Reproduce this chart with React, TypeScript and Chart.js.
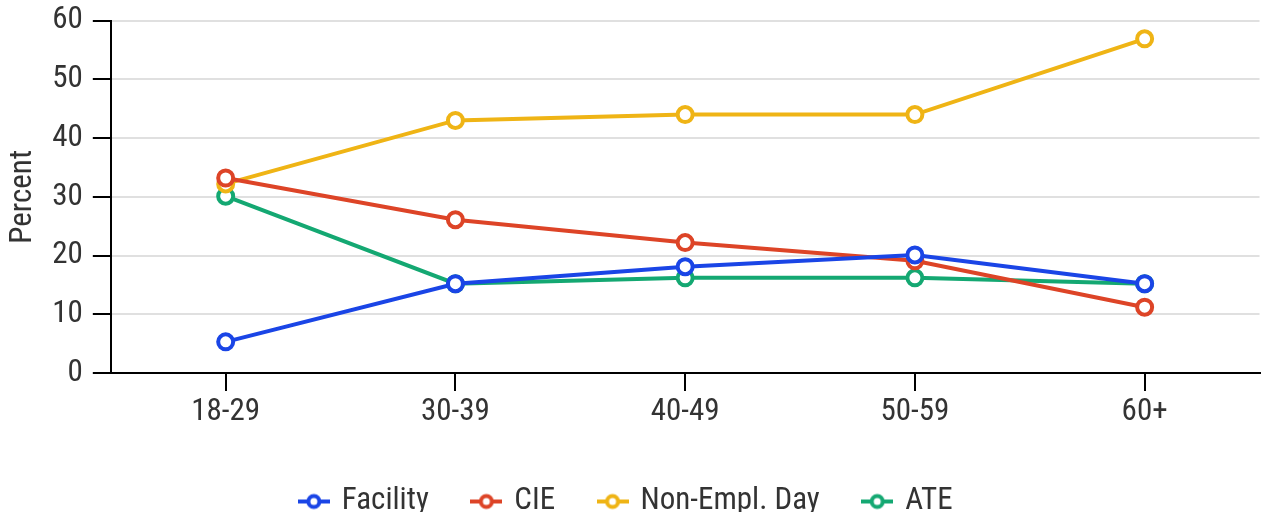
import React, { useEffect, useRef } from 'react';
import { Chart, registerables } from 'chart.js';
Chart.register(...registerables);

const categories = ['18-29', '30-39', '40-49', '50-59', '60+'];
const facility = [5.3, 15.2, 18.1, 20.1, 15.2];
const cie = [33.2, 26.1, 22.2, 19.1, 11.2];
const nonEmpl = [32.2, 43.0, 44.0, 44.0, 56.9];
const ate = [30.1, 15.2, 16.2, 16.2, 15.2];
const seriesNames = ['Facility', 'CIE', 'Non-Empl. Day', 'ATE'];
const seriesColors = ['#1a45e6', '#dd4427', '#efb415', '#14a872'];

const FONT = "'Roboto Condensed', 'Liberation Sans Narrow', 'DejaVu Sans Condensed', Roboto, sans-serif";

function makeIcon(color: string) {
  const c = document.createElement('canvas');
  c.width = 32;
  c.height = 22;
  const ctx = c.getContext('2d')!;
  ctx.strokeStyle = color;
  ctx.lineWidth = 4;
  ctx.beginPath();
  ctx.moveTo(0, 11);
  ctx.lineTo(32, 11);
  ctx.stroke();
  ctx.beginPath();
  ctx.arc(16, 11, 5.5, 0, Math.PI * 2);
  ctx.fillStyle = '#fff';
  ctx.fill();
  ctx.stroke();
  return c;
}

const legendShift = {
  id: 'legendShift',
  afterLayout(chart: any) {
    if (chart.legend) {
      chart.legend.left -= 11;
      chart.legend.right -= 11;
    }
  },
};

export default function App() {
  const ref = useRef<HTMLCanvasElement>(null);
  useEffect(() => {
    const icons = seriesColors.map(makeIcon);
    const values = [facility, cie, nonEmpl, ate];
    const chart = new Chart(ref.current!, {
      type: 'line',
      data: {
        labels: categories,
        datasets: values.map((d, i) => ({
          label: seriesNames[i],
          data: d,
          borderColor: seriesColors[i],
          backgroundColor: '#fff',
          borderWidth: 4,
          pointRadius: 7.5,
          pointBorderWidth: 4,
          pointBackgroundColor: '#fff',
          pointBorderColor: seriesColors[i],
          tension: 0,
        })),
      },
      plugins: [legendShift],
      options: {
        animation: false,
        responsive: false,
        maintainAspectRatio: false,
        layout: { padding: { left: 5, right: 0, top: 0, bottom: 0 } },
        plugins: {
          tooltip: { enabled: false },
          legend: {
            position: 'bottom',
            labels: {
              usePointStyle: true,
              pointStyleWidth: 25,
              color: '#333',
              padding: 45,
              font: { family: FONT, size: 31 },
              generateLabels: (ch: any) => {
                const items = Chart.defaults.plugins.legend.labels.generateLabels(ch);
                return items.map((it: any, i: number) => ({ ...it, pointStyle: icons[i] }));
              },
            },
          },
        },
        scales: {
          x: {
            offset: true,
            afterFit: (s: any) => { s.height = 68; },
            grid: {
              display: true,
              drawOnChartArea: false,
              drawTicks: true,
              tickLength: 18,
              color: '#000',
              lineWidth: 2,
            },
            border: { display: true, color: '#000', width: 2 },
            ticks: { color: '#333', font: { family: FONT, size: 31 }, padding: 3 },
          },
          y: {
            min: 0,
            max: 60,
            ticks: { stepSize: 10, color: '#333', font: { family: FONT, size: 31 }, padding: 10 },
            grid: { color: '#e0e0e0', lineWidth: 2, tickColor: '#000', tickLength: 18 },
            border: { display: true, color: '#000', width: 2 },
            title: { display: true, text: 'Percent', color: '#333', font: { family: FONT, size: 31 }, padding: 0 },
          },
        },
      },
    });
    return () => chart.destroy();
  }, []);
  return (
    <div style={{ position: 'fixed', left: 0, top: -8, width: 1271, height: 535 }}>
      <canvas ref={ref} width={1271} height={535} style={{ width: 1271, height: 535 }} />
    </div>
  );
}
